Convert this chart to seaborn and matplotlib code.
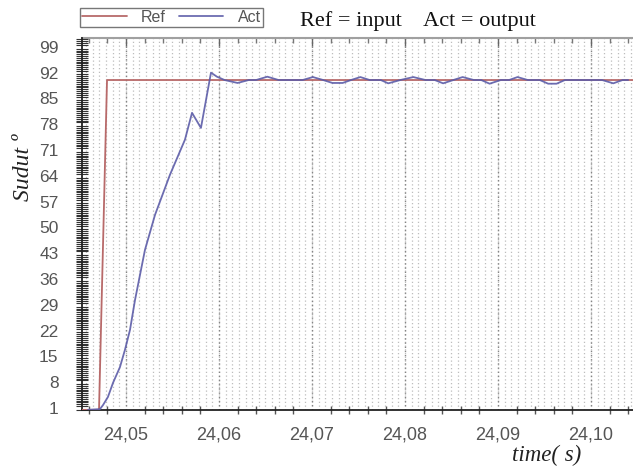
import numpy as np
import pandas as pd
import matplotlib
matplotlib.use("Agg")
import matplotlib.pyplot as plt
from matplotlib.ticker import MultipleLocator, FuncFormatter
import seaborn as sns

# setpoint (Ref) and measured angle (Act)
ref_time = [24.0452, 24.04710, 24.04796, 24.1045]
ref_vals = [0.5, 0.5, 90.0, 90.0]

act_time = [24.04591, 24.04720, 24.04753, 24.04806, 24.04860, 24.04935, 24.04989,
            24.05043, 24.05097, 24.05204, 24.05312, 24.05473, 24.05634, 24.05710,
            24.05806, 24.05914, 24.05978, 24.0606, 24.0620, 24.0632, 24.0640,
            24.0652, 24.0664, 24.0690, 24.0701, 24.0712, 24.0722, 24.0733, 24.0742,
            24.0752, 24.0762, 24.0774, 24.0782, 24.0795, 24.0809, 24.0822, 24.0832,
            24.0841, 24.0852, 24.0862, 24.0874, 24.0882, 24.0891, 24.0903, 24.0912,
            24.0921, 24.0932, 24.0945, 24.0954, 24.0963, 24.0972, 24.1012, 24.1024,
            24.1034, 24.1040]
act_vals = [0.5, 0.7, 1.8, 4.0, 7.8, 12.1, 16.8,
            22.2, 30.3, 43.9, 53.4, 64.3, 73.8, 81.1,
            77.0, 92.0, 90.9, 90.0, 89.2, 90.0, 90.0,
            90.9, 90.0, 90.0, 90.8, 90.0, 89.2, 89.2, 90.0,
            90.8, 90.0, 90.0, 89.1, 90.0, 90.8, 90.0, 90.0,
            89.1, 90.0, 90.8, 90.0, 90.0, 89.0, 90.0, 90.0,
            90.8, 90.0, 90.0, 89.0, 89.0, 90.0, 90.0, 89.1,
            90.0, 90.0]

y_ticks = list(range(1, 100, 7))

ref_df = pd.DataFrame({"t": ref_time, "v": ref_vals})
act_df = pd.DataFrame({"t": act_time, "v": act_vals})

sns.set_style("white")
plt.rcParams["font.family"] = ["Liberation Sans", "DejaVu Sans"]
serif = ["Liberation Serif", "DejaVu Serif"]

fig = plt.figure(figsize=(6.33, 4.68), dpi=100)
ax = fig.add_axes([82 / 633, 1 - 410 / 468, 1 - 82 / 633, (410 - 38) / 468])

ref_c = "#b86a6a"
act_c = "#5c5ca8"

# dense dotted grid
for g in np.arange(24.04, 24.11, 0.01 / 14):
    ax.axvline(g, color="#bdbdbd", ls=(0, (1, 2)), lw=0.9, zorder=0)
for g in np.arange(24.05, 24.11, 0.01):
    ax.axvline(g, color="#858585", ls=(0, (1, 2)), lw=1.0, zorder=0)

sns.lineplot(data=ref_df, x="t", y="v", sort=False, estimator=None, color=ref_c,
             lw=1.3, ax=ax, label="Ref", zorder=3)
sns.lineplot(data=act_df, x="t", y="v", sort=False, estimator=None, color=act_c,
             lw=1.3, ax=ax, label="Act", zorder=4, alpha=0.9)

ax.set_xlim(24.04527, 24.10452)
ax.set_ylim(0.46, 101.4)
ax.set_yticks(y_ticks)
ax.yaxis.set_minor_locator(MultipleLocator(0.5))
ax.xaxis.set_major_locator(MultipleLocator(0.01))
ax.xaxis.set_minor_locator(MultipleLocator(0.002))
ax.xaxis.set_major_formatter(FuncFormatter(lambda v, p: f"{v:.2f}".replace(".", ",")))

ax.tick_params(axis="y", which="major", direction="out", length=7, width=1,
               color="#222222", labelsize=12.5, labelcolor="#555555", pad=10)
ax.tick_params(axis="y", which="minor", direction="inout", length=9, width=0.8,
               color="#333333", left=True)
ax.tick_params(axis="x", which="major", direction="inout", length=12, width=1.2,
               color="#333333", labelsize=13, labelcolor="#555555", pad=6)
ax.tick_params(axis="x", which="minor", direction="inout", length=6, width=1,
               color="#555555", bottom=True)

# small tick marks along the top border
top = ax.secondary_xaxis("top")
top.xaxis.set_major_locator(MultipleLocator(0.01))
top.xaxis.set_minor_locator(MultipleLocator(0.002))
top.tick_params(which="major", direction="in", length=6, width=1, color="#666666",
                labeltop=False)
top.tick_params(which="minor", direction="in", length=3.5, width=1, color="#777777")
top.spines["top"].set_color("#a0a0a0")
top.spines["top"].set_linewidth(1.5)

for s in ["left", "bottom"]:
    ax.spines[s].set_color("#222222")
    ax.spines[s].set_linewidth(1.3)
ax.spines["top"].set_visible(False)
ax.spines["right"].set_visible(False)

ax.set_xlabel("")
ax.set_ylabel("")
ax.legend_.remove()

handles, labels = ax.get_legend_handles_labels()
leg = fig.legend(handles, labels, loc="upper left", bbox_to_anchor=(80 / 633, 1 - 8 / 468),
                 borderaxespad=0, ncol=2, frameon=True, fancybox=False, fontsize=11.5,
                 handlelength=2.8, borderpad=0.12, columnspacing=0.8, handletextpad=0.9,
                 labelcolor="#555555", edgecolor="#555555")
leg.get_frame().set_linewidth(1.0)

fig.text(0.661, 0.955, "Ref = input    Act = output", ha="center", va="center",
         fontsize=16, family=serif, color="#111111")
fig.text(0.037, 0.643, "Sudut \u00ba", rotation=90, ha="center", va="center",
         fontsize=17, style="italic", family=serif, color="#222222")
fig.text(0.864, 0.027, "time( s)", ha="center", va="center", fontsize=16.5,
         style="italic", family=serif, color="#222222")

fig.savefig("out.png", dpi=100)
